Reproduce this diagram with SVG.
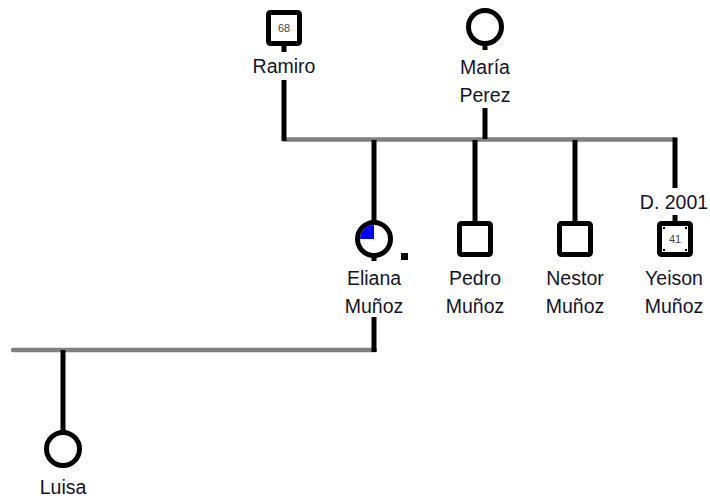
<svg xmlns="http://www.w3.org/2000/svg" width="710" height="498" viewBox="0 0 710 498">
<style>
.bg{fill:#fff}
.sq{fill:#fff;stroke:#000;stroke-width:5}
.ci{fill:#fff;stroke:#000;stroke-width:5}
.ln{stroke:#000;stroke-width:5;fill:none}
.gl{stroke:#808080;stroke-width:4.5;fill:none;stroke-linecap:round}
.lb{font-family:"Liberation Sans",Arial,sans-serif;font-size:19.5px;fill:#141428;text-anchor:middle}
.ag{font-family:"Liberation Sans",Arial,sans-serif;font-size:11px;fill:#444;text-anchor:middle}
.dot{fill:#000}
</style>
<rect class="bg" x="0" y="0" width="710" height="498"/>
<g id="connectors">
<line class="gl" x1="284" y1="139.5" x2="675" y2="139.5"/>
<line class="gl" x1="13" y1="350" x2="375" y2="350"/>
<line class="ln" x1="284" y1="80" x2="284" y2="141"/>
<line class="ln" x1="485" y1="108" x2="485" y2="139"/>
<line class="ln" x1="374" y1="140" x2="374" y2="222"/>
<line class="ln" x1="475" y1="140" x2="475" y2="222"/>
<line class="ln" x1="575" y1="140" x2="575" y2="222"/>
<line class="ln" x1="675" y1="137.5" x2="675" y2="188"/>
<line class="ln" x1="675" y1="215" x2="675" y2="222"/>
<line class="ln" x1="374" y1="317" x2="374" y2="352"/>
<line class="ln" x1="63" y1="350" x2="63" y2="431"/>
</g>
<g id="ramiro">
<line class="ln" x1="284" y1="45" x2="284" y2="52"/>
<rect class="sq" x="268.5" y="12.5" width="31" height="31" rx="2"/>
<text class="ag" x="284" y="32">68</text>
<text class="lb" x="284" y="73">Ramiro</text>
</g>
<g id="maria">
<line class="ln" x1="485" y1="42" x2="485" y2="50"/>
<circle class="ci" cx="485" cy="27" r="16.5"/>
<text class="lb" x="485" y="74">María</text>
<text class="lb" x="485" y="102">Perez</text>
</g>
<g id="eliana">
<line class="ln" x1="374" y1="254" x2="374" y2="261"/>
<circle class="ci" cx="374" cy="239" r="16.5"/>
<path d="M374,239 L374,225 A14,14 0 0 0 360,239 Z" fill="#0000ff"/>
<rect class="dot" x="401" y="253" width="7" height="7"/>
<text class="lb" x="374" y="285">Eliana</text>
<text class="lb" x="374" y="313">Muñoz</text>
</g>
<g id="pedro">
<rect class="sq" x="459.5" y="223.5" width="31" height="31" rx="2"/>
<text class="lb" x="475" y="285">Pedro</text>
<text class="lb" x="475" y="313">Muñoz</text>
</g>
<g id="nestor">
<rect class="sq" x="559.5" y="223.5" width="31" height="31" rx="2"/>
<text class="lb" x="575" y="285">Nestor</text>
<text class="lb" x="575" y="313">Muñoz</text>
</g>
<g id="yeison">
<text class="lb" x="674" y="209">D. 2001</text>
<rect class="sq" x="659.5" y="223.5" width="31" height="31" rx="2"/>
<rect class="dot" x="663" y="227" width="2" height="2"/>
<rect class="dot" x="685" y="227" width="2" height="2"/>
<rect class="dot" x="663" y="249" width="2" height="2"/>
<rect class="dot" x="685" y="249" width="2" height="2"/>
<text class="ag" x="675" y="243">41</text>
<text class="lb" x="674" y="285">Yeison</text>
<text class="lb" x="674" y="313">Muñoz</text>
</g>
<g id="luisa">
<circle class="ci" cx="63" cy="449" r="16.5"/>
<text class="lb" x="63" y="494">Luisa</text>
</g>
</svg>
